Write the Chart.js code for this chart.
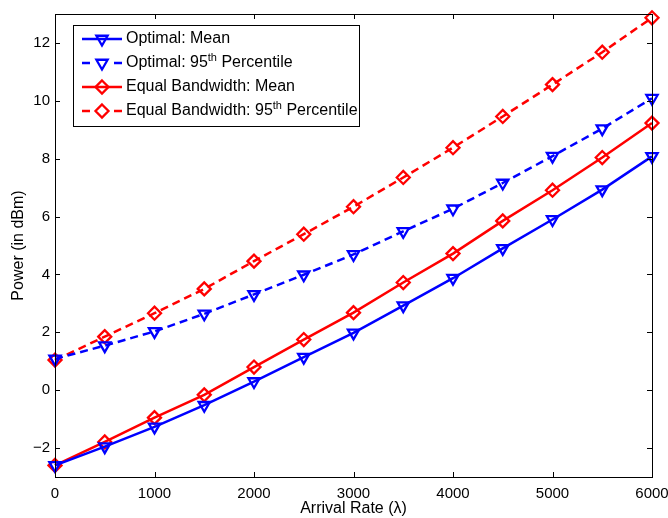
<!DOCTYPE html>
<html>
<head>
<meta charset="utf-8">
<title>Power vs Arrival Rate</title>
<script src="https://cdn.jsdelivr.net/npm/chart.js@4.4.1/dist/chart.umd.min.js"></script>
<style>
  html, body { margin: 0; padding: 0; background: #fff; }
  #wrap { width: 668px; height: 518px; }
</style>
</head>
<body>
<div id="wrap"><canvas id="chart" width="668" height="518"></canvas></div>
<script>
// Data
const arrivalRates = [0, 500, 1000, 1500, 2000, 2500, 3000, 3500, 4000, 4500, 5000, 5500, 6000];
const optimalMean = [-2.6, -1.95, -1.27, -0.52, 0.3, 1.14, 1.98, 2.92, 3.87, 4.9, 5.9, 6.93, 8.08];
const optimal95 = [1.08, 1.54, 2.03, 2.64, 3.31, 3.99, 4.69, 5.49, 6.27, 7.16, 8.09, 9.04, 10.09];
const equalMean = [-2.6, -1.79, -0.95, -0.16, 0.8, 1.75, 2.68, 3.72, 4.72, 5.85, 6.91, 8.04, 9.23];
const equal95 = [1.04, 1.85, 2.66, 3.5, 4.46, 5.39, 6.34, 7.35, 8.38, 9.46, 10.56, 11.68, 12.87];

const xTicks = [0, 1000, 2000, 3000, 4000, 5000, 6000];
const yTicks = [-2, 0, 2, 4, 6, 8, 10, 12];

const BLUE = "#0000ff";
const RED = "#ff0000";
const FONT = "'Liberation Sans', Arial, Helvetica, sans-serif";

Chart.defaults.font.family = FONT;
Chart.defaults.font.size = 15;
Chart.defaults.color = "#000";

function toPoints(values) {
  return arrivalRates.map((x, i) => ({ x: x, y: values[i] }));
}

function series(label, values, color, dashed, marker) {
  return {
    label: label,
    data: toPoints(values),
    borderColor: color,
    borderWidth: 2.5,
    borderDash: dashed ? [8, 5] : [],
    pointStyle: marker,
    pointRotation: marker === "triangle" ? 180 : 0,
    pointRadius: 6.5,
    pointBorderWidth: 2.3,
    pointBorderColor: color,
    pointBackgroundColor: "rgba(0,0,0,0)",
    fill: false,
    tension: 0,
    clip: false,
  };
}

// Legend entries drawn by hand so the superscript "th" can be shown
const legendItems = [
  { text: ["Optimal: Mean"], color: BLUE, dashed: false, marker: "triangle" },
  { text: ["Optimal: 95", "th", " Percentile"], color: BLUE, dashed: true, marker: "triangle" },
  { text: ["Equal Bandwidth: Mean"], color: RED, dashed: false, marker: "diamond" },
  { text: ["Equal Bandwidth: 95", "th", " Percentile"], color: RED, dashed: true, marker: "diamond" },
];

function drawMarker(ctx, kind, x, y, r) {
  ctx.beginPath();
  if (kind === "triangle") {
    ctx.moveTo(x - r * 0.866, y - r * 0.5);
    ctx.lineTo(x + r * 0.866, y - r * 0.5);
    ctx.lineTo(x, y + r);
  } else {
    ctx.moveTo(x, y - r);
    ctx.lineTo(x + r, y);
    ctx.lineTo(x, y + r);
    ctx.lineTo(x - r, y);
  }
  ctx.closePath();
  ctx.stroke();
}

const matlabFrame = {
  id: "matlabFrame",
  afterDraw(chart) {
    const ctx = chart.ctx;
    const area = chart.chartArea;
    const xs = chart.scales.x;
    const ys = chart.scales.y;
    ctx.save();

    // box round the plot
    ctx.strokeStyle = "#000";
    ctx.lineWidth = 1;
    ctx.setLineDash([]);
    ctx.strokeRect(Math.round(area.left) + 0.5, Math.round(area.top) + 0.5,
      Math.round(area.right - area.left), Math.round(area.bottom - area.top));

    // inward ticks on all four sides
    const tl = 5;
    ctx.beginPath();
    xTicks.forEach((v) => {
      const px = Math.round(xs.getPixelForValue(v)) + 0.5;
      ctx.moveTo(px, area.bottom); ctx.lineTo(px, area.bottom - tl);
      ctx.moveTo(px, area.top); ctx.lineTo(px, area.top + tl);
    });
    yTicks.forEach((v) => {
      const py = Math.round(ys.getPixelForValue(v)) + 0.5;
      ctx.moveTo(area.left, py); ctx.lineTo(area.left + tl, py);
      ctx.moveTo(area.right, py); ctx.lineTo(area.right - tl, py);
    });
    ctx.stroke();

    // legend
    const bx = 73, by = 25, bw = 286, bh = 101;
    ctx.fillStyle = "#fff";
    ctx.fillRect(bx, by, bw, bh);
    ctx.strokeRect(bx + 0.5, by + 0.5, bw, bh);
    legendItems.forEach((item, i) => {
      const ry = 39 + i * 24;
      ctx.strokeStyle = item.color;
      ctx.lineWidth = 2.5;
      ctx.beginPath();
      if (item.dashed) {
        ctx.moveTo(82, ry); ctx.lineTo(90, ry);
        ctx.moveTo(114, ry); ctx.lineTo(122, ry);
      } else {
        ctx.moveTo(82, ry); ctx.lineTo(122, ry);
      }
      ctx.stroke();
      ctx.lineWidth = 2.3;
      drawMarker(ctx, item.marker, 102, ry, 6.5);

      ctx.fillStyle = "#000";
      ctx.textBaseline = "middle";
      ctx.textAlign = "left";
      let tx = 126;
      item.text.forEach((part, j) => {
        const sup = j === 1;
        ctx.font = (sup ? "11px " : "16px ") + FONT;
        ctx.fillText(part, tx, sup ? ry - 5 : ry);
        tx += ctx.measureText(part).width;
      });
    });
    ctx.restore();
  },
};

new Chart(document.getElementById("chart"), {
  type: "line",
  data: {
    datasets: [
      series("Optimal: Mean", optimalMean, BLUE, false, "triangle"),
      series("Optimal: 95th Percentile", optimal95, BLUE, true, "triangle"),
      series("Equal Bandwidth: Mean", equalMean, RED, false, "rectRot"),
      series("Equal Bandwidth: 95th Percentile", equal95, RED, true, "rectRot"),
    ],
  },
  options: {
    responsive: false,
    animation: false,
    layout: { padding: { top: 10, right: 0, left: 0, bottom: 0 } },
    plugins: {
      legend: { display: false },
      tooltip: { enabled: false },
    },
    scales: {
      x: {
        type: "linear",
        min: 0,
        max: 6000,
        grid: { display: false, drawTicks: false },
        border: { display: false },
        afterBuildTicks: (scale) => { scale.ticks = xTicks.map((v) => ({ value: v })); },
        afterFit: (scale) => {
          scale.height = 41;
          // keep the plot's right edge where the reference has it
          scale.paddingRight = 16;
          scale.paddingLeft = 0;
        },
        ticks: { padding: 8, maxRotation: 0, callback: (v) => String(v) },
        title: { display: true, text: "Arrival Rate (λ)", font: { size: 16 }, padding: { top: 0, bottom: 0 } },
      },
      y: {
        type: "linear",
        min: -3,
        max: 13,
        grid: { display: false, drawTicks: false },
        border: { display: false },
        afterBuildTicks: (scale) => { scale.ticks = yTicks.map((v) => ({ value: v })); },
        afterFit: (scale) => { scale.width = 55; },
        ticks: { padding: 5, callback: (v) => String(v).replace("-", "\u2212") },
        title: { display: true, text: "Power (in dBm)", font: { size: 16 }, padding: { top: 9, bottom: 0 } },
      },
    },
  },
  plugins: [matlabFrame],
});
</script>
</body>
</html>
